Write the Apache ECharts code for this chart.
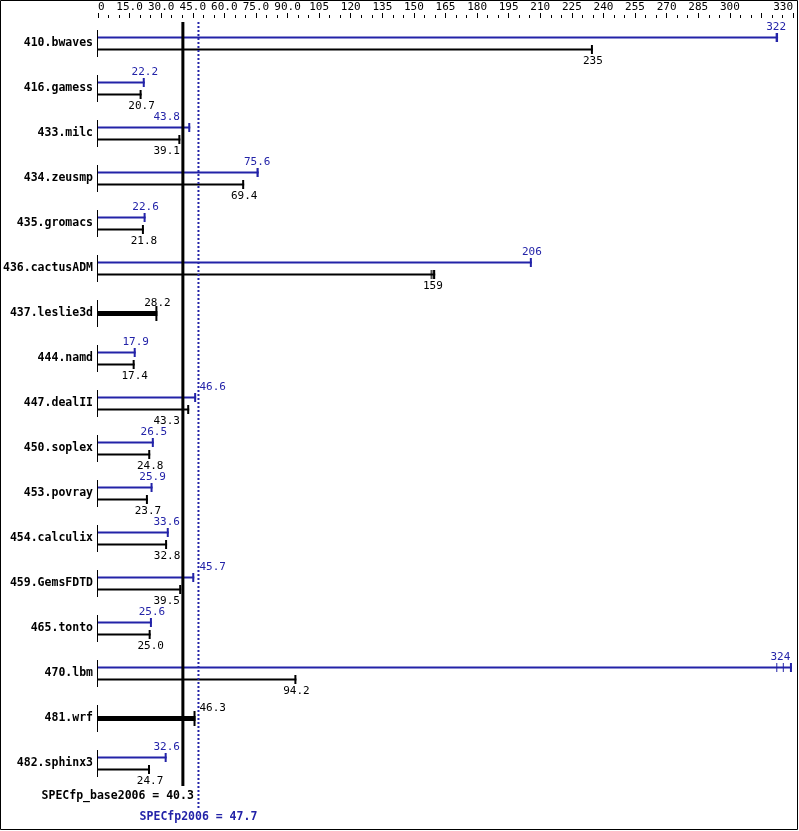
<!DOCTYPE html>
<html><head><meta charset="utf-8">
<script src="https://cdn.jsdelivr.net/npm/echarts@6/dist/echarts.min.js"></script>
<style>html,body{margin:0;padding:0;background:#fff}#c{width:799px;height:831px}</style>
</head><body><div id="c"></div>
<script>
const categories = ['410.bwaves','416.gamess','433.milc','434.zeusmp','435.gromacs','436.cactusADM','437.leslie3d','444.namd','447.dealII','450.soplex','453.povray','454.calculix','459.GemsFDTD','465.tonto','470.lbm','481.wrf','482.sphinx3'];
const baseValues = [235, 20.7, 39.1, 69.4, 21.8, 159, 28.2, 17.4, 43.3, 24.8, 23.7, 32.8, 39.5, 25.0, 94.2, 46.3, 24.7];
const peakValues = [322, 22.2, 43.8, 75.6, 22.6, 206, null, 17.9, 46.6, 26.5, 25.9, 33.6, 45.7, 25.6, 324, null, 32.6];
const baseRuns = [[],[],[],[],[],[158.2,159.1,160.1],[],[],[],[],[],[],[],[],[],[],[]];
const peakRuns = [[322,322.9],[],[],[75.6,76.3],[],[],[],[],[],[],[],[],[],[],[322.3,325.4,329.5],[],[]];
const baseScore = 40.3;
const peakScore = 47.7;
const xTickLabels = ['0','15.0','30.0','45.0','60.0','75.0','90.0','105','120','135','150','165','180','195','210','225','240','255','270','285','300','','330'];

const BLUE = '#2323a8';
const MONO = '"DejaVu Sans Mono", "Liberation Mono", monospace';
const chart = echarts.init(document.getElementById('c'), null, {renderer: 'canvas'});

function labelEl(txt, cx, y, color, baseX, peakX) {
  const half = txt.length * 6.62 / 2;
  let x = cx, align = 'center';
  if (cx + half > baseX - 2 && cx - half < peakX + 2) {
    if (cx < (baseX + peakX) / 2) { x = baseX - 3; align = 'right'; }
    else { x = peakX + 1; align = 'left'; }
  }
  return {type: 'text', style: {text: txt, x: x, y: y, fill: color, font: '11px ' + MONO, textAlign: align, textVerticalAlign: 'middle'}};
}

function fmt(v) { return v >= 100 ? String(Math.round(v)) : v.toFixed(1); }

function barGroup(api, val, runs, y, color, width, labelY, baseX, peakX) {
  const els = [];
  const x0 = api.coord([0, 0])[0];
  const ticks = runs.length ? runs : [val];
  const maxV = Math.max(val, ...ticks);
  const xe = api.coord([maxV, 0])[0];
  els.push({type: 'line', shape: {x1: x0, y1: y, x2: xe, y2: y}, style: {stroke: color, lineWidth: width}});
  const th = width > 3 ? 7.5 : 4.5;
  ticks.forEach(function (t) {
    const tx = api.coord([t, 0])[0];
    const w = (t === maxV) ? 2 : 1;
    els.push({type: 'line', shape: {x1: tx - (w === 2 ? 1 : 0), y1: y - th, x2: tx - (w === 2 ? 1 : 0), y2: y + th}, style: {stroke: color, lineWidth: w}});
  });
  els.push(labelEl(fmt(val), api.coord([val, 0])[0], labelY, color, baseX, peakX));
  return els;
}

const option = {
  animation: false,
  graphic: [{type: 'rect', shape: {x: 0.5, y: 0.5, width: 797, height: 829}, style: {fill: 'none', stroke: '#000', lineWidth: 1}, silent: true}],
  grid: {left: 98, right: 6, top: 21, bottom: 45},
  xAxis: {
    type: 'value', position: 'top', min: 0, max: 330, interval: 15, offset: 3,
    axisLine: {show: false},
    axisTick: {show: true, length: 5, lineStyle: {color: '#000', width: 1}},
    minorTick: {show: true, splitNumber: 3, length: 3, lineStyle: {color: '#000', width: 1}},
    splitLine: {show: false}, minorSplitLine: {show: false},
    axisLabel: {
      margin: 5, color: '#000', fontFamily: MONO, fontSize: 11,
      showMinLabel: true, showMaxLabel: true, alignMinLabel: 'left', alignMaxLabel: 'right',
      formatter: function (v) { const i = Math.round(v / 15); return xTickLabels[i] !== undefined ? xTickLabels[i] : ''; }
    }
  },
  yAxis: {
    type: 'category', inverse: true, data: categories,
    axisLine: {show: false}, axisTick: {show: false}, splitLine: {show: false},
    axisLabel: {margin: 5, color: '#000', fontFamily: MONO, fontSize: 11.5, fontWeight: 'bold', padding: [2, 0, 0, 0]}
  },
  series: [
    {
      type: 'custom', clip: false, silent: true,
      data: categories.map(function (c, i) { return [i, baseValues[i], peakValues[i] == null ? baseValues[i] : peakValues[i]]; }),
      encode: {y: 0, x: [1, 2]},
      renderItem: function (params, api) {
        const i = params.dataIndex;
        const cy = api.coord([0, i])[1];
        const x0 = api.coord([0, i])[0];
        const baseX = api.coord([baseScore, i])[0];
        const peakX = api.coord([peakScore, i])[0];
        let children = [{type: 'line', shape: {x1: x0 - 0.5, y1: cy - 13.5, x2: x0 - 0.5, y2: cy + 13.5}, style: {stroke: '#000', lineWidth: 1}}];
        const p = peakValues[i];
        if (p == null) {
          children = children.concat(barGroup(api, baseValues[i], baseRuns[i], cy, '#000', 5, cy - 10, baseX, peakX));
        } else {
          children = children.concat(barGroup(api, p, peakRuns[i], cy - 6, BLUE, 2, cy - 16, baseX, peakX));
          children = children.concat(barGroup(api, baseValues[i], baseRuns[i], cy + 6, '#000', 2, cy + 18, baseX, peakX));
        }
        return {type: 'group', children: children};
      }
    },
    {
      type: 'custom', clip: false, silent: true,
      data: [[baseScore, peakScore]],
      encode: {x: [0, 1]},
      renderItem: function (params, api) {
        const cs = params.coordSys;
        const bx = api.coord([baseScore, 0])[0];
        const px = api.coord([peakScore, 0])[0];
        const top = cs.y + 1, bot = cs.y + cs.height;
        return {type: 'group', children: [
          {type: 'line', shape: {x1: bx, y1: top, x2: bx, y2: bot}, style: {stroke: '#000', lineWidth: 3}},
          {type: 'line', shape: {x1: px, y1: top, x2: px, y2: bot + 22}, style: {stroke: BLUE, lineWidth: 2, lineDash: [2, 2]}},
          {type: 'text', style: {text: 'SPECfp_base2006 = ' + baseScore.toFixed(1), x: bx + 11, y: bot + 10, fill: '#000', font: 'bold 11.5px ' + MONO, textAlign: 'right', textVerticalAlign: 'middle'}},
          {type: 'text', style: {text: 'SPECfp2006 = ' + peakScore.toFixed(1), x: px, y: bot + 31, fill: BLUE, font: 'bold 11.5px ' + MONO, textAlign: 'center', textVerticalAlign: 'middle'}}
        ]};
      }
    }
  ]
};
chart.setOption(option);
</script></body></html>
